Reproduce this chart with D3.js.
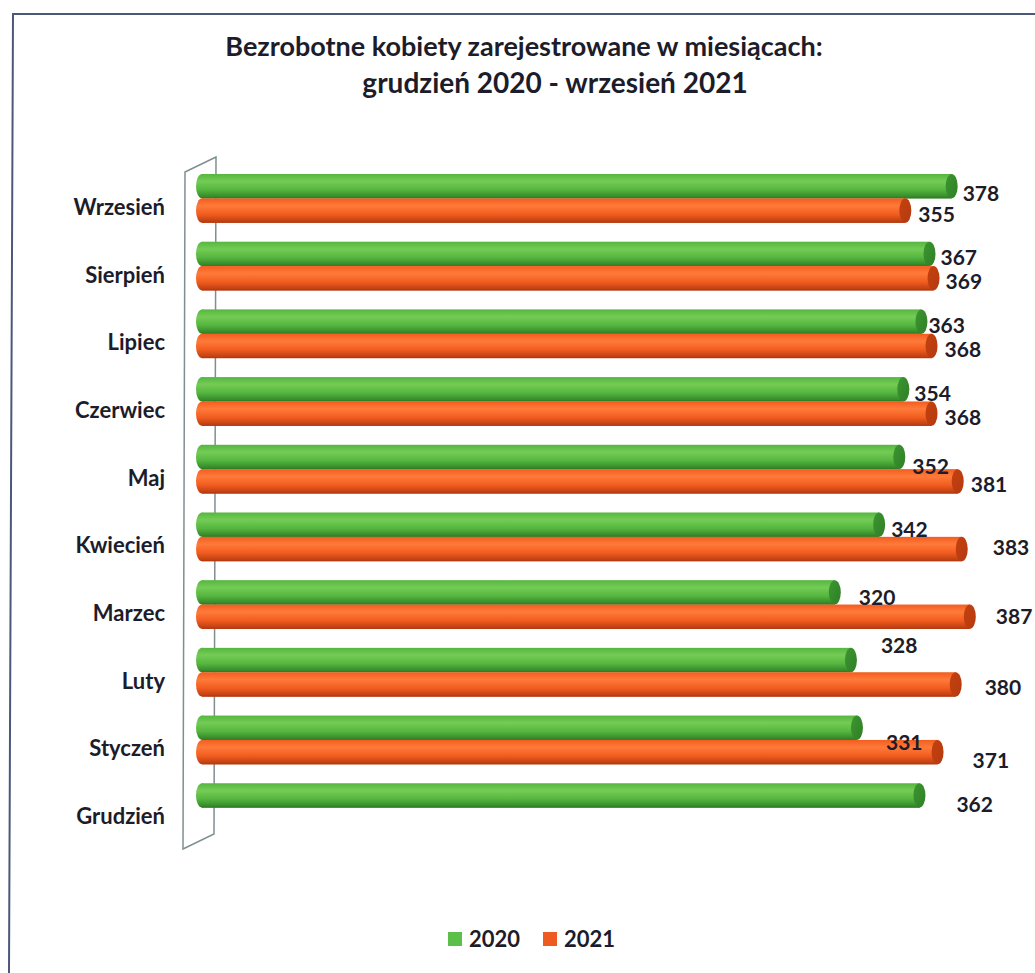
<!DOCTYPE html>
<html>
<head>
<meta charset="utf-8">
<script src="https://cdnjs.cloudflare.com/ajax/libs/d3/7.8.5/d3.min.js"></script>
<style>
  body { margin: 0; background: #fff; }
  svg { display: block; }
  text { font-family: Lato, "Open Sans", sans-serif; font-weight: bold; fill: #1c1c2a; }
</style>
</head>
<body>
<div id="canvas"></div>
<script>
/**
 * Data
 */
const months = ["Wrzesień", "Sierpień", "Lipiec", "Czerwiec", "Maj", "Kwiecień", "Marzec", "Luty", "Styczeń", "Grudzień"];
const years = ["2020", "2021"];
const values2020 = [378, 367, 363, 354, 352, 342, 320, 328, 331, 362];
const values2021 = [355, 369, 368, 368, 381, 383, 387, 380, 371, null];
const titleLines = ["Bezrobotne kobiety zarejestrowane w miesiącach:", "grudzień 2020 - wrzesień 2021"];

// Excel puts the 3D data labels a bit off, nudge them the same way [dx, dy]
const labelNudge = {
    "2020": [[2, 7], [2, 4], [-2, 4], [2, 4], [4, 9], [3, 5], [15, 5], [21, -15], [20, 15], [28, 9]],
    "2021": [[4, 4], [3, 3], [4, 3], [4, 4], [4, 3], [22, -2], [17, 0], [20, 3], [26, 8], [0, 0]]
};

const width = 1035, height = 973;
const colors = {
    "2020": { light: "#74cc55", mid: "#55b63f", dark: "#2f7f26", cap: "#3c962f", legend: "#5cbf49" },
    "2021": { light: "#ff7a3a", mid: "#f25d1f", dark: "#b53a10", cap: "#c4410f", legend: "#ef5a22" }
};

let svg = d3.select("#canvas")
    .append("svg")
    .attr("width", width)
    .attr("height", height);

// scanned page frame
svg.append("path")
    .attr("d", "M1035,14 L13,14 L9,973")
    .attr("fill", "none")
    .attr("stroke", "#4c5878")
    .attr("stroke-width", 2);

// gradients for the cylinders
let defs = svg.append("defs");
years.forEach(yr => {
    let g = defs.append("linearGradient")
        .attr("id", "grad" + yr)
        .attr("x1", 0).attr("y1", 0).attr("x2", 0).attr("y2", 1);
    g.append("stop").attr("offset", "0%").attr("stop-color", colors[yr].mid);
    g.append("stop").attr("offset", "30%").attr("stop-color", colors[yr].light);
    g.append("stop").attr("offset", "65%").attr("stop-color", colors[yr].mid);
    g.append("stop").attr("offset", "100%").attr("stop-color", colors[yr].dark);

    let c = defs.append("linearGradient")
        .attr("id", "cap" + yr)
        .attr("x1", 0).attr("y1", 0).attr("x2", 1).attr("y2", 1);
    c.append("stop").attr("offset", "0%").attr("stop-color", colors[yr].cap);
    c.append("stop").attr("offset", "100%").attr("stop-color", colors[yr].dark);
});

// title
svg.selectAll(".title")
    .data(titleLines)
    .enter()
    .append("text")
    .attr("class", "title")
    .attr("x", (d, i) => i === 0 ? 524 : 555)
    .attr("y", (d, i) => 56 + i * 37)
    .attr("text-anchor", "middle")
    .style("font-size", (d, i) => i === 0 ? "27px" : "28px")
    .text(d => d);

// scales
let x = d3.scaleLinear()
    .domain([0, 400])
    .range([196, 1002]);

let y = d3.scaleBand()
    .domain(months)
    .range([174, 832])
    .paddingInner(0.28)
    .paddingOuter(0);

let ySub = d3.scaleBand()
    .domain(years)
    .range([0, y.bandwidth()]);

// back wall of the 3D chart
svg.append("path")
    .attr("d", "M185,172 L216,157 L214,834 L183,849 Z")
    .attr("fill", "#fff")
    .attr("stroke", "#7f8f90")
    .attr("stroke-width", 1.5);

let rows = months.map((m, i) => ({
    month: m,
    bars: [
        { year: "2020", value: values2020[i], idx: i },
        { year: "2021", value: values2021[i], idx: i }
    ].filter(b => b.value !== null)
}));

let group = svg.selectAll(".row")
    .data(rows)
    .enter()
    .append("g")
    .attr("class", "row")
    .attr("transform", d => "translate(0," + y(d.month) + ")");

let bar = group.selectAll(".bar")
    .data(d => d.bars)
    .enter()
    .append("g")
    .attr("class", "bar");

const capR = 6;
const h = ySub.bandwidth();

bar.append("ellipse")
    .attr("cx", x(0) + capR)
    .attr("cy", d => ySub(d.year) + h / 2)
    .attr("rx", capR)
    .attr("ry", h / 2)
    .attr("fill", d => "url(#grad" + d.year + ")");

bar.append("rect")
    .attr("x", x(0) + capR)
    .attr("y", d => ySub(d.year))
    .attr("width", d => x(d.value) - capR - x(0) - capR)
    .attr("height", h)
    .attr("fill", d => "url(#grad" + d.year + ")");

// bottom edge shadow
bar.append("line")
    .attr("x1", x(0) + capR)
    .attr("x2", d => x(d.value) - capR)
    .attr("y1", d => ySub(d.year) + h - 0.5)
    .attr("y2", d => ySub(d.year) + h - 0.5)
    .attr("stroke", d => colors[d.year].dark)
    .attr("stroke-width", 1);

bar.append("ellipse")
    .attr("cx", d => x(d.value) - capR)
    .attr("cy", d => ySub(d.year) + h / 2)
    .attr("rx", capR)
    .attr("ry", h / 2)
    .attr("fill", d => "url(#cap" + d.year + ")");

// value labels, on top of every bar
let allBars = rows.flatMap(r => r.bars.map(b => Object.assign({ month: r.month }, b)));
svg.append("g")
    .selectAll("text")
    .data(allBars)
    .enter()
    .append("text")
    .attr("x", d => x(d.value) + 3 + labelNudge[d.year][d.idx][0])
    .attr("y", d => y(d.month) + ySub(d.year) + h / 2 + labelNudge[d.year][d.idx][1])
    .attr("dy", "0.36em")
    .style("font-size", "21px")
    .text(d => d.value);

// month labels
group.append("text")
    .attr("x", 165)
    .attr("y", 33)
    .attr("dy", "0.36em")
    .attr("text-anchor", "end")
    .style("font-size", "22px")
    .text(d => d.month);

// legend
let legend = svg.append("g")
    .selectAll("g")
    .data(years)
    .enter()
    .append("g")
    .attr("transform", (d, i) => "translate(" + (448 + i * 95) + ",932)");

legend.append("rect")
    .attr("width", 14)
    .attr("height", 14)
    .attr("fill", d => colors[d].legend);

legend.append("text")
    .attr("x", 21)
    .attr("y", 7)
    .attr("dy", "0.36em")
    .style("font-size", "22px")
    .text(d => d);
</script>
</body>
</html>
